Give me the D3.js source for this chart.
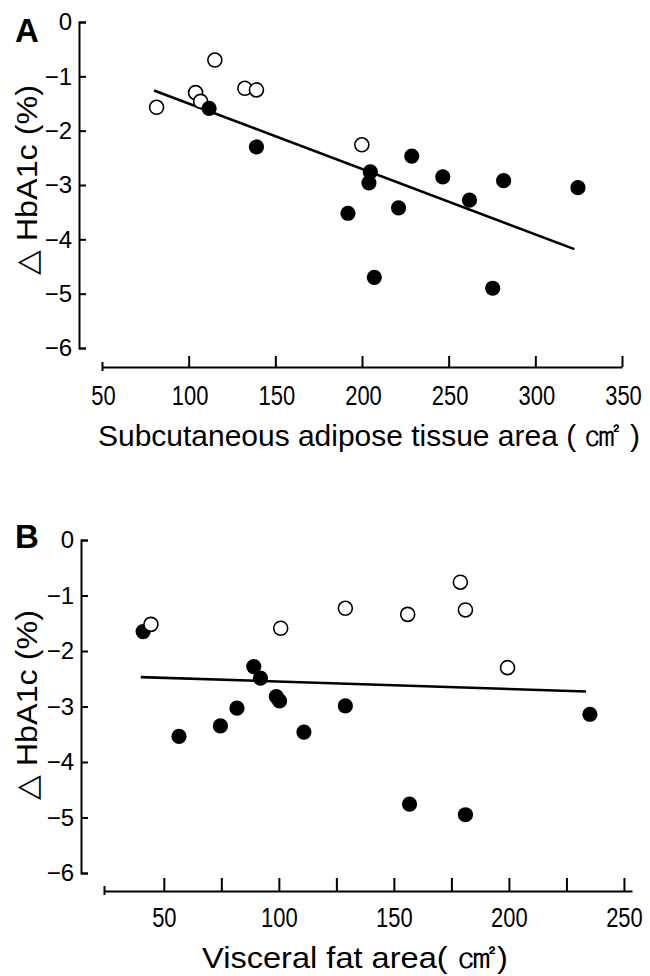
<!DOCTYPE html>
<html><head><meta charset="utf-8">
<script src="https://cdn.jsdelivr.net/npm/d3@7"></script>
<style>
body{margin:0;background:#fff}
text{fill:#000}
</style>
</head><body>
<svg id="chart" width="650" height="976"></svg>
<script>
// ---------- Panel A: subcutaneous adipose tissue area ----------
const satOpenX      = [81.5, 104.0, 106.9, 115.1, 132.4, 139.1, 199.9];
const satOpenDelta  = [-1.57, -1.30, -1.46, -0.70, -1.22, -1.25, -2.26];
const satFilledX    = [111.8, 139.1, 204.8, 204.0, 191.9, 221.1, 228.7, 246.6, 262.0, 281.7, 324.6, 207.1, 275.4];
const satFilledDelta= [-1.59, -2.30, -2.76, -2.96, -3.52, -3.42, -2.47, -2.85, -3.28, -2.92, -3.05, -4.70, -4.90];
const satFitX       = [80, 322.5];
const satFitDelta   = [-1.26, -4.18];
const satTicks      = [50, 100, 150, 200, 250, 300, 350];

// ---------- Panel B: visceral fat area ----------
const vfaOpenX      = [44.4, 100.8, 128.9, 156.0, 178.9, 181.1, 199.4];
const vfaOpenDelta  = [-1.52, -1.59, -1.23, -1.34, -0.76, -1.26, -2.30];
const vfaFilledX    = [41.0, 56.6, 74.6, 81.8, 89.1, 92.0, 98.9, 100.3, 110.9, 128.9, 156.8, 181.1, 235.2];
const vfaFilledDelta= [-1.65, -3.54, -3.35, -3.03, -2.28, -2.49, -2.82, -2.90, -3.46, -2.99, -4.76, -4.95, -3.14];
const vfaFitX       = [40, 233.5];
const vfaFitDelta   = [-2.47, -2.73];
const vfaTicks      = [24, 50, 75, 100, 125, 150, 175, 200, 225, 250];
const vfaLabels     = [50, 100, 150, 200, 250];

const yTicks = [0, -1, -2, -3, -4, -5, -6];
const yTitle = "\u25B3 HbA1c (%)";

const svg = d3.select("#chart");
const FONT = "'Liberation Sans', Arial, Helvetica, sans-serif";

function panel(cfg) {
  const g = svg.append("g");
  const x = d3.scaleLinear().domain(cfg.xDomain).range(cfg.xRange);
  const y = d3.scaleLinear().domain([-6, 0]).range(cfg.yRange);

  // y axis (ticks point inward)
  const ya = g.append("g").attr("transform", `translate(${cfg.yAxisX},0)`)
    .call(d3.axisLeft(y).tickValues(yTicks).tickSize(-7).tickSizeOuter(-7).tickPadding(7)
      .tickFormat(d => d === 0 ? "0" : "\u2212" + Math.abs(d)));
  ya.selectAll("path,line").attr("stroke", "#000").attr("stroke-width", 2);
  ya.selectAll("text").attr("font-family", FONT).attr("font-size", 24).attr("fill", "#000");

  // x axis (separate, ticks pointing up)
  const xa = g.append("g").attr("transform", `translate(0,${cfg.xAxisY})`)
    .call(d3.axisBottom(x).tickValues(cfg.xTicks).tickSize(-cfg.tickLen).tickSizeOuter(0)
      .tickFormat(d => cfg.xLabels.includes(d) ? String(d) : ""));
  xa.selectAll("path,line").attr("stroke", "#000").attr("stroke-width", 2);
  xa.selectAll(".tick").filter(d => d === cfg.xDomain[0]).select("line").attr("y1", -5).attr("y2", 4);
  xa.selectAll("text").attr("font-family", FONT).attr("font-size", 27).attr("fill", "#000")
    .attr("y", cfg.labelDy).attr("dy", null).attr("x", cfg.labelDx);
  xa.selectAll("text").filter(d => cfg.xLabels.includes(d))
    .attr("textLength", d => String(d).length * 12.2).attr("lengthAdjust", "spacingAndGlyphs");

  // fit line
  g.append("line")
    .attr("x1", x(cfg.fitX[0])).attr("y1", y(cfg.fitY[0]))
    .attr("x2", x(cfg.fitX[1])).attr("y2", y(cfg.fitY[1]))
    .attr("stroke", "#000").attr("stroke-width", 2.6);

  const open = cfg.openX.map((v, i) => [v, cfg.openY[i]]);
  const filled = cfg.filledX.map((v, i) => [v, cfg.filledY[i]]);
  const drawOpen = () => g.append("g").selectAll("circle").data(open).join("circle")
    .attr("cx", d => x(d[0])).attr("cy", d => y(d[1])).attr("r", 7)
    .attr("fill", "#fff").attr("stroke", "#000").attr("stroke-width", 1.6);
  const drawFilled = () => g.append("g").selectAll("circle").data(filled).join("circle")
    .attr("cx", d => x(d[0])).attr("cy", d => y(d[1])).attr("r", 7.6).attr("fill", "#000");
  if (cfg.openOnTop) { drawFilled(); drawOpen(); } else { drawOpen(); drawFilled(); }

  // panel letter
  g.append("text").attr("x", 15).attr("y", cfg.letterY).text(cfg.letter)
    .attr("font-family", FONT).attr("font-weight", "bold").attr("font-size", 33);

  // y title
  g.append("text").attr("transform", `translate(37,${cfg.yTitleY}) rotate(-90)`)
    .attr("text-anchor", "middle").attr("font-family", FONT).attr("font-size", 30)
    .attr("textLength", 190).attr("lengthAdjust", "spacingAndGlyphs")
    .text(yTitle);

  // x title
  const t = g.append("text").attr("x", cfg.xTitleX).attr("y", cfg.xTitleY)
    .attr("font-family", FONT).attr("font-size", 29)
    .attr("textLength", cfg.xTitleLen).attr("lengthAdjust", "spacingAndGlyphs");
  t.append("tspan").text(cfg.xTitle[0]);
  t.append("tspan").attr("font-size", 36).text(cfg.xTitle[1]);
  t.append("tspan").text(cfg.xTitle[2]);
}

panel({
  letter: "A", letterY: 42,
  xDomain: [50, 350], xRange: [102, 622], yRange: [348, 22],
  yAxisX: 79, xAxisY: 367, tickLen: 11, labelDy: 38, labelDx: 1,
  xTicks: satTicks, xLabels: satTicks,
  fitX: satFitX, fitY: satFitDelta,
  openX: satOpenX, openY: satOpenDelta, filledX: satFilledX, filledY: satFilledDelta,
  openOnTop: false,
  yTitleY: 180,
  xTitle: ["Subcutaneous adipose tissue area ( ", "\u33A0", " )"], xTitleX: 98, xTitleY: 446, xTitleLen: 542
});

panel({
  letter: "B", letterY: 548,
  xDomain: [24, 253.5], xRange: [104, 632], yRange: [873, 540],
  yAxisX: 81, xAxisY: 891, tickLen: 13, labelDy: 36, labelDx: 0,
  xTicks: vfaTicks, xLabels: vfaLabels,
  fitX: vfaFitX, fitY: vfaFitDelta,
  openX: vfaOpenX, openY: vfaOpenDelta, filledX: vfaFilledX, filledY: vfaFilledDelta,
  openOnTop: true,
  yTitleY: 705,
  xTitle: ["Visceral fat area( ", "\u33A0", ")"], xTitleX: 202, xTitleY: 968, xTitleLen: 306
});
</script>
</body></html>
